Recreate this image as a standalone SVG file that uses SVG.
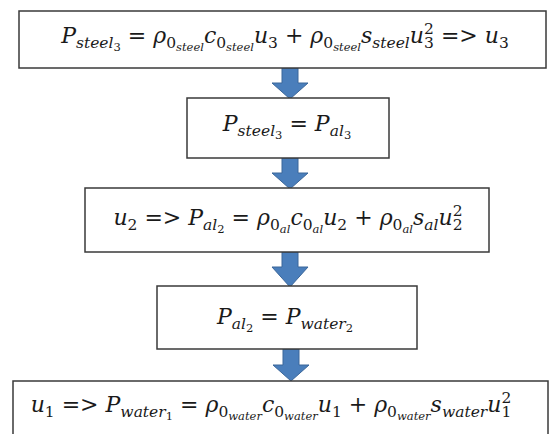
<svg xmlns="http://www.w3.org/2000/svg" width="553" height="434" viewBox="0 0 553 434">
<style>
.box{fill:#fff;stroke:#3a3a3a;stroke-width:1.5}
.arr{fill:#4a7ebb;stroke:#3a669a;stroke-width:1}
.eq{font-family:"DejaVu Serif","Liberation Serif",serif;font-size:22px;fill:#1a1a1a;text-anchor:middle}
.i{font-style:italic}
.s{font-size:15.5px}
.ss{font-size:11.5px}
</style>
<rect width="553" height="434" fill="#fff"/>
<g id="connectors">
<polygon class="arr" points="282,68 298,68 298,83 308,83 290,99 272,83 282,83"/>
<polygon class="arr" points="282,158 298,158 298,173 308,173 290,189 272,173 282,173"/>
<polygon class="arr" points="282,252 298,252 298,267 308,267 290,287 272,267 282,267"/>
<polygon class="arr" points="283,349 299,349 299,365 309,365 291,381 273,365 283,365"/>
</g>
<g id="node1">
<rect class="box" x="19" y="11" width="527" height="57"/>
<text class="eq" x="285" y="43"><tspan class="i">P</tspan><tspan class="s i" dy="5">steel</tspan><tspan class="ss" dy="3">3</tspan><tspan dy="-8"> = </tspan><tspan class="i">ρ</tspan><tspan class="s" dy="5">0</tspan><tspan class="ss i" dy="3">steel</tspan><tspan class="i" dy="-8">c</tspan><tspan class="s" dy="5">0</tspan><tspan class="ss i" dy="3">steel</tspan><tspan class="i" dy="-8">u</tspan><tspan class="s" dy="5">3</tspan><tspan dy="-5"> + </tspan><tspan class="i">ρ</tspan><tspan class="s" dy="5">0</tspan><tspan class="ss i" dy="3">steel</tspan><tspan class="i" dy="-8">s</tspan><tspan class="s i" dy="5">steel</tspan><tspan class="i" dy="-5">u</tspan><tspan class="s" dy="5">3</tspan><tspan class="s" dx="-9.8" dy="-14">2</tspan><tspan dy="9"> =&gt; </tspan><tspan class="i">u</tspan><tspan class="s" dy="5">3</tspan></text>
</g>
<g id="node2">
<rect class="box" x="187" y="98" width="202" height="60"/>
<text class="eq" x="287" y="131"><tspan class="i">P</tspan><tspan class="s i" dy="5">steel</tspan><tspan class="ss" dy="3">3</tspan><tspan dy="-8"> = </tspan><tspan class="i">P</tspan><tspan class="s i" dy="5">al</tspan><tspan class="ss" dy="3">3</tspan></text>
</g>
<g id="node3">
<rect class="box" x="85" y="188" width="404" height="64"/>
<text class="eq" x="288" y="225"><tspan class="i">u</tspan><tspan class="s" dy="5">2</tspan><tspan dy="-5"> =&gt; </tspan><tspan class="i">P</tspan><tspan class="s i" dy="5">al</tspan><tspan class="ss" dy="3">2</tspan><tspan dy="-8"> = </tspan><tspan class="i">ρ</tspan><tspan class="s" dy="5">0</tspan><tspan class="ss i" dy="3">al</tspan><tspan class="i" dy="-8">c</tspan><tspan class="s" dy="5">0</tspan><tspan class="ss i" dy="3">al</tspan><tspan class="i" dy="-8">u</tspan><tspan class="s" dy="5">2</tspan><tspan dy="-5"> + </tspan><tspan class="i">ρ</tspan><tspan class="s" dy="5">0</tspan><tspan class="ss i" dy="3">al</tspan><tspan class="i" dy="-8">s</tspan><tspan class="s i" dy="5">al</tspan><tspan class="i" dy="-5">u</tspan><tspan class="s" dy="5">2</tspan><tspan class="s" dx="-9.8" dy="-14">2</tspan></text>
</g>
<g id="node4">
<rect class="box" x="157" y="286" width="260" height="63"/>
<text class="eq" x="285" y="324"><tspan class="i">P</tspan><tspan class="s i" dy="5">al</tspan><tspan class="ss" dy="3">2</tspan><tspan dy="-8"> = </tspan><tspan class="i">P</tspan><tspan class="s i" dy="5">water</tspan><tspan class="ss" dy="3">2</tspan></text>
</g>
<g id="node5">
<rect class="box" x="13" y="381" width="535" height="60"/>
<text class="eq" x="271" y="412"><tspan class="i">u</tspan><tspan class="s" dy="5">1</tspan><tspan dy="-5"> =&gt; </tspan><tspan class="i">P</tspan><tspan class="s i" dy="5">water</tspan><tspan class="ss" dy="3">1</tspan><tspan dy="-8"> = </tspan><tspan class="i">ρ</tspan><tspan class="s" dy="5">0</tspan><tspan class="ss i" dy="3">water</tspan><tspan class="i" dy="-8">c</tspan><tspan class="s" dy="5">0</tspan><tspan class="ss i" dy="3">water</tspan><tspan class="i" dy="-8">u</tspan><tspan class="s" dy="5">1</tspan><tspan dy="-5"> + </tspan><tspan class="i">ρ</tspan><tspan class="s" dy="5">0</tspan><tspan class="ss i" dy="3">water</tspan><tspan class="i" dy="-8">s</tspan><tspan class="s i" dy="5">water</tspan><tspan class="i" dy="-5">u</tspan><tspan class="s" dy="5">1</tspan><tspan class="s" dx="-9.8" dy="-14">2</tspan></text>
</g>
</svg>
